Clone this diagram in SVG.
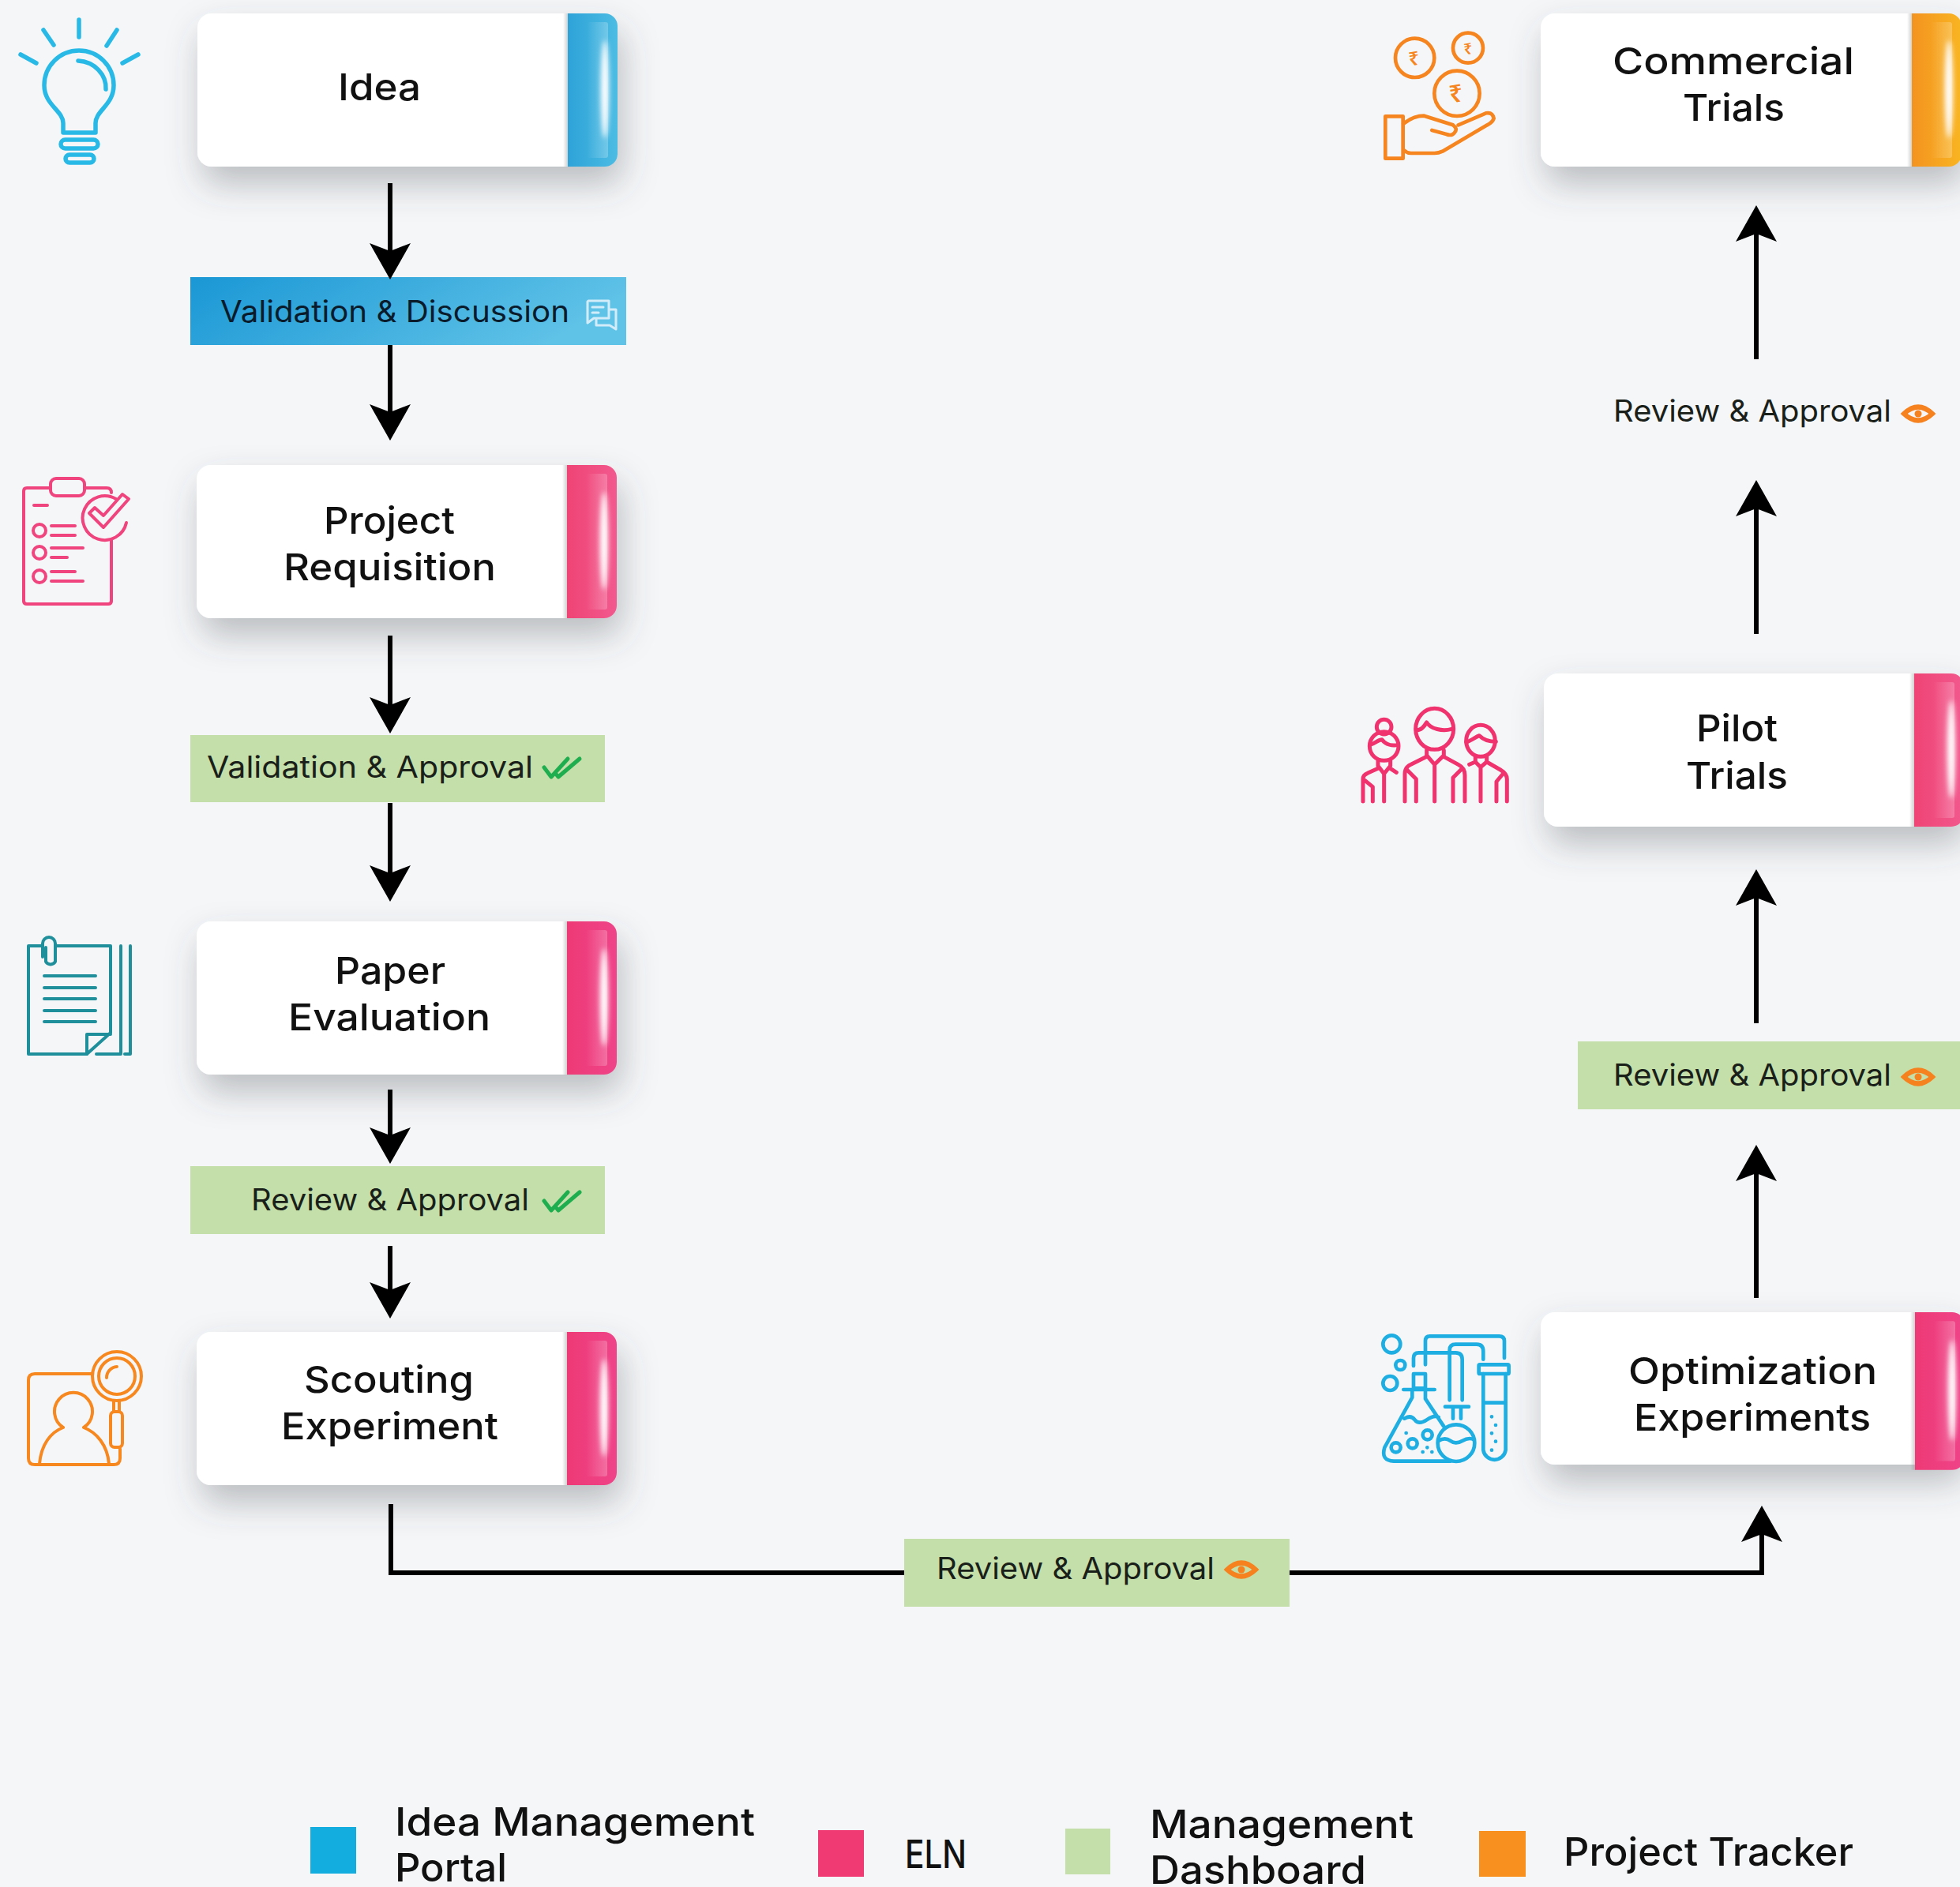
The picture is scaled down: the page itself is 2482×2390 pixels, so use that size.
<svg xmlns="http://www.w3.org/2000/svg" width="2482" height="2390" viewBox="0 0 2482 2390">
<style>
text{font-family:"Inter","Liberation Sans",sans-serif;fill:#111}
.c{font-size:47px;font-weight:500}
.l{font-size:38px;font-weight:400;fill:#1a1f1a}
.g{font-size:49px;font-weight:500}
.card{fill:#fff;filter:url(#sh)}
.green{fill:#c4dfa9}
.ln{fill:none;stroke:#000;stroke-width:6;marker-end:url(#ah)}
.pl{fill:none;stroke:#000;stroke-width:6}
.ic{fill:none;stroke-linecap:round;stroke-linejoin:round}
.ck{fill:none;stroke:#1fae4f;stroke-width:5;stroke-linecap:round;stroke-linejoin:round}
.ey{fill:none;stroke:#f5821f;stroke-width:6}
.ru{font-family:"Noto Sans","DejaVu Sans",sans-serif;fill:#f6851f;font-weight:600;text-anchor:middle}
</style>
<defs>
<filter id="sh" x="-20%" y="-30%" width="140%" height="190%"><feDropShadow dx="6" dy="22" stdDeviation="22" flood-color="#4a4f55" flood-opacity=".34"/></filter>
<filter id="bl" x="-300%" y="-20%" width="700%" height="140%"><feGaussianBlur stdDeviation="3"/></filter>
<marker id="ah" viewBox="0 0 46 52" refX="10" refY="26" markerWidth="46" markerHeight="52" markerUnits="userSpaceOnUse" orient="auto"><path d="M0 0L46 26L0 52L10 26Z" fill="#000"/></marker>
<linearGradient id="gb"><stop offset="0" stop-color="#2ea3d8"/><stop offset="1" stop-color="#4cbce3"/></linearGradient>
<linearGradient id="gp1"><stop offset="0" stop-color="#ef4475"/><stop offset="1" stop-color="#f2598e"/></linearGradient>
<linearGradient id="gp2"><stop offset="0" stop-color="#ee3a76"/><stop offset="1" stop-color="#ef4489"/></linearGradient>
<linearGradient id="go"><stop offset="0" stop-color="#f39320"/><stop offset="1" stop-color="#f9b522"/></linearGradient>
<linearGradient id="gl" x1="0" y1="0" x2="1" y2=".25"><stop offset="0" stop-color="#1a97d5"/><stop offset="1" stop-color="#5fc2e7"/></linearGradient>
<linearGradient id="gp"><stop offset="0" stop-color="#fff" stop-opacity="0"/><stop offset="1" stop-color="#fff" stop-opacity=".24"/></linearGradient>
<linearGradient id="ed"><stop offset="0" stop-color="#8a8a8a" stop-opacity="0"/><stop offset="1" stop-color="#8a8a8a" stop-opacity=".4"/></linearGradient>
<path id="sp" d="M0 0H47a16 16 0 0 1 16 16V178a16 16 0 0 1-16 16H0Z"/>
<g id="gloss">
<rect x="-6" y="0" width="6" height="194" fill="url(#ed)"/>
<rect x="24" y="11" width="27" height="172" rx="3" fill="url(#gp)"/>
<ellipse cx="47" cy="96" rx="5" ry="62" fill="#fff" filter="url(#bl)"/>
</g>
<g id="eye"><path class="ey" d="M-18 0Q0-17 18 0Q0 17-18 0Z"/><circle r="4.5" fill="#f5821f"/></g>
</defs>
<rect width="2482" height="2390" fill="#f5f6f8"/>

<g id="node-idea">
<rect class="card" x="250" y="17" width="532" height="194" rx="18"/>
<use href="#sp" x="719" y="17" fill="url(#gb)"/><use href="#gloss" x="719" y="17"/>
<text class="c" x="428" y="127" textLength="105" lengthAdjust="spacingAndGlyphs">Idea</text>
<g class="ic" stroke="#29b9e6" stroke-width="5.5"><path d="M80 168V156C80 140 56 133 56 108A44 44 0 0 1 144 108C144 133 121 140 121 156V168Z"/><rect x="77" y="177" width="47" height="11" rx="5.5"/><rect x="83" y="196" width="36" height="10" rx="5"/><path d="M100 25V47M55 38L68 57M148 38L135 58M26 69L46 80M175 69L155 80M99 77C120 78 135 95 134 113"/></g>
</g>

<g id="label-validation-discussion">
<rect x="241" y="351" width="552" height="86" fill="url(#gl)"/>
<text class="l" x="279" y="408" textLength="442" lengthAdjust="spacingAndGlyphs" style="fill:#0a1c2c">Validation &amp; Discussion</text>
<g class="ic" stroke="#d2edf9" stroke-width="3"><path d="M745 381H771V403H752L744 409V382Z"/><path d="M772 392H780V417L772 412H755V404M750 389H764M750 396H758"/></g>
</g>

<g id="node-project">
<rect class="card" x="249" y="589" width="532" height="194" rx="18"/>
<use href="#sp" x="718" y="589" fill="url(#gp1)"/><use href="#gloss" x="718" y="589"/>
<text class="c" x="410" y="676" textLength="166" lengthAdjust="spacingAndGlyphs">Project</text>
<text class="c" x="359" y="735" textLength="269" lengthAdjust="spacingAndGlyphs">Requisition</text>
<g class="ic" stroke="#f0447e" stroke-width="4"><path d="M64 618H34Q30 618 30 622V761Q30 765 34 765H137Q141 765 141 761V684M107 618H135Q141 618 141 624"/><rect x="64" y="606" width="43" height="22" rx="7"/><path d="M160 662A28 28 0 1 1 147 632"/><path d="M113 650L131 668L163 632L155 626L131 653L120 643Z"/><circle cx="50" cy="672" r="8"/><circle cx="50" cy="700" r="8"/><circle cx="50" cy="730" r="8"/><path d="M43 640H60M65 666H95M65 678H95M65 694H105M65 706H85M65 724H95M65 736H105"/></g>
</g>

<g id="label-validation-approval">
<rect class="green" x="241" y="931" width="525" height="85"/>
<text class="l" x="262" y="985" textLength="413" lengthAdjust="spacingAndGlyphs">Validation &amp; Approval</text>
<path class="ck" d="M689 972L698 984L719 961M703 979L707 984L734 961"/>
</g>

<g id="node-paper">
<rect class="card" x="249" y="1167" width="532" height="194" rx="18"/>
<use href="#sp" x="718" y="1167" fill="url(#gp2)"/><use href="#gloss" x="718" y="1167"/>
<text class="c" x="424" y="1246" textLength="140" lengthAdjust="spacingAndGlyphs">Paper</text>
<text class="c" x="365" y="1305" textLength="256" lengthAdjust="spacingAndGlyphs">Evaluation</text>
<g class="ic" stroke="#1f8f9b" stroke-width="4"><path d="M52 1198H36V1335H110L140 1308V1198H70"/><path d="M110 1335V1310H140M153 1198V1335H122M165 1198V1335H158M56 1236H121M56 1251H121M56 1265H121M56 1280H121M56 1294H121"/><path d="M54 1212V1195A8 8 0 0 1 70 1195V1218A7 7 0 0 1 58 1218V1200"/></g>
</g>

<g id="label-review-approval-1">
<rect class="green" x="241" y="1477" width="525" height="86"/>
<text class="l" x="318" y="1533" textLength="352" lengthAdjust="spacingAndGlyphs">Review &amp; Approval</text>
<path class="ck" d="M689 1521L698 1533L719 1510M703 1528L707 1533L734 1510"/>
</g>

<g id="node-scouting">
<rect class="card" x="249" y="1687" width="532" height="194" rx="18"/>
<use href="#sp" x="718" y="1687" fill="url(#gp2)"/><use href="#gloss" x="718" y="1687"/>
<text class="c" x="385" y="1764" textLength="215" lengthAdjust="spacingAndGlyphs">Scouting</text>
<text class="c" x="356" y="1823" textLength="275" lengthAdjust="spacingAndGlyphs">Experiment</text>
<g class="ic" stroke="#f7881f" stroke-width="4"><path d="M116 1740H44Q36 1740 36 1748V1847Q36 1855 44 1855H144Q152 1855 152 1847V1835"/><circle cx="148" cy="1743" r="31"/><circle cx="148" cy="1743" r="23"/><path d="M135 1745A14 14 0 0 1 148 1731"/><rect x="140" y="1788" width="15" height="45" rx="5"/><path d="M144 1775V1788M151 1775V1788"/><path d="M80 1808A24 24 0 1 1 106 1808C122 1814 136 1830 138 1854M80 1808C64 1814 52 1830 50 1854"/></g>
</g>

<g id="label-review-approval-mid">
<rect class="green" x="1145" y="1949" width="488" height="86"/>
<text class="l" x="1186" y="2000" textLength="352" lengthAdjust="spacingAndGlyphs">Review &amp; Approval</text>
<use href="#eye" x="1572" y="1988"/>
</g>

<g id="node-optimization">
<rect class="card" x="1951" y="1662" width="531" height="193" rx="18"/>
<g transform="translate(2425 1662) scale(1 1.03)"><use href="#sp" fill="url(#gp2)"/><use href="#gloss"/></g>
<text class="c" x="2062" y="1753" textLength="315" lengthAdjust="spacingAndGlyphs">Optimization</text>
<text class="c" x="2069" y="1812" textLength="300" lengthAdjust="spacingAndGlyphs">Experiments</text>
<g class="ic" stroke="#1eaee2" stroke-width="14" transform="translate(1690 1660) scale(.3333)"><circle cx="217" cy="127" r="33"/><circle cx="250" cy="207" r="18"/><circle cx="211" cy="276" r="27"/><path d="M345 205V115Q345 97 362 97H625Q645 97 645 115V180M300 210V180Q300 160 320 160H460Q485 160 485 185V340M437 340V150Q437 128 460 128H540Q565 128 565 155V185"/><rect x="548" y="205" width="114" height="35" rx="4"/><path d="M565 240V530A43 43 0 0 0 650 530V240M565 350H650M597 403h.1M612 435h.1M597 466h.1M612 497h.1M597 530h.1"/><rect x="300" y="240" width="45" height="55"/><path d="M262 300H380M295 305V330L190 520Q175 570 225 572H440M345 305V335L415 440M265 410Q290 395 305 415T350 415T395 405"/><circle cx="233" cy="520" r="18"/><circle cx="296" cy="505" r="18"/><circle cx="353" cy="472" r="18"/><path d="M272 465h.1M335 537h.1M352 520h.1M370 537h.1"/><path d="M420 365H510M450 370V410M480 370V410"/><circle cx="462" cy="503" r="70"/><path d="M395 495Q420 480 440 495T485 495T530 490"/></g>
</g>

<g id="label-review-approval-right">
<rect class="green" x="1998" y="1319" width="484" height="86"/>
<text class="l" x="2043" y="1375" textLength="352" lengthAdjust="spacingAndGlyphs">Review &amp; Approval</text>
<use href="#eye" x="2429" y="1364"/>
</g>

<g id="node-pilot">
<rect class="card" x="1955" y="853" width="527" height="194" rx="18"/>
<use href="#sp" x="2424" y="853" fill="url(#gp1)"/><use href="#gloss" x="2424" y="853"/>
<text class="c" x="2148" y="939" textLength="103" lengthAdjust="spacingAndGlyphs">Pilot</text>
<text class="c" x="2135" y="999" textLength="129" lengthAdjust="spacingAndGlyphs">Trials</text>
<g class="ic" stroke="#f0336f" stroke-width="15" transform="translate(1700 880) scale(.3333)"><ellipse cx="350" cy="130" rx="72" ry="78"/><path d="M280 135C300 135 310 120 320 105C335 130 380 140 415 130M320 210V235M385 210V235M320 230L350 265L385 230M350 265V405M237 405V300Q237 275 260 265L320 235M385 235L440 265Q465 278 465 305V405M280 405V320L245 285M420 405V315L455 280"/><circle cx="158" cy="122" r="28"/><circle cx="158" cy="195" r="55"/><path d="M105 190C125 185 135 170 150 170C165 190 190 195 212 190M135 250V270L158 300L182 270V250M78 405V320Q78 305 95 298L135 280M182 280L205 295M158 300V405M115 405V350L85 325"/><ellipse cx="525" cy="175" rx="55" ry="60"/><path d="M470 180C490 175 505 160 520 155C535 170 560 178 583 178M505 235V255L525 275L548 255V235M482 265L505 255M548 255L600 285Q625 300 625 320V405M525 275V405M585 405V330L610 300"/></g>
</g>

<g id="label-review-approval-top">
<text class="l" x="2043" y="534" textLength="352" lengthAdjust="spacingAndGlyphs">Review &amp; Approval</text>
<use href="#eye" x="2429" y="524"/>
</g>

<g id="node-commercial">
<rect class="card" x="1951" y="17" width="531" height="194" rx="18"/>
<use href="#sp" x="2421" y="17" fill="url(#go)"/><use href="#gloss" x="2421" y="17"/>
<text class="c" x="2042" y="94" textLength="306" lengthAdjust="spacingAndGlyphs">Commercial</text>
<text class="c" x="2131" y="153" textLength="129" lengthAdjust="spacingAndGlyphs">Trials</text>
<g transform="translate(1700 20) scale(.3333)"><g class="ic" stroke="#f6851f" stroke-width="14"><circle cx="275" cy="160" r="74"/><circle cx="477" cy="122" r="57"/><circle cx="435" cy="295" r="86"/><rect x="163" y="382" width="67" height="160"/><path d="M232 410Q270 380 310 380L420 415Q440 430 425 445Q415 458 395 450L340 435M440 415L545 370Q570 365 575 390Q570 405 550 415L380 515Q365 522 350 522H260Q245 522 232 510"/></g><text class="ru" x="272" y="188" font-size="72" transform="rotate(-10 272 160)">₹</text><text class="ru" x="477" y="146" font-size="58" transform="rotate(-10 477 122)">₹</text><text class="ru" x="432" y="328" font-size="92" transform="rotate(-10 432 295)">₹</text></g>
</g>

<g id="legend">
<rect x="393" y="2314" width="58" height="59" fill="#14ade0"/>
<text class="g" x="500" y="2325" textLength="456" lengthAdjust="spacingAndGlyphs">Idea Management</text>
<text class="g" x="500" y="2383" textLength="142" lengthAdjust="spacingAndGlyphs">Portal</text>
<rect x="1036" y="2318" width="58" height="59" fill="#ef3a74"/>
<text class="g" x="1146" y="2366" textLength="78" lengthAdjust="spacingAndGlyphs">ELN</text>
<rect x="1349" y="2316" width="57" height="58" fill="#c4dfa9"/>
<text class="g" x="1456" y="2328" textLength="334" lengthAdjust="spacingAndGlyphs">Management</text>
<text class="g" x="1456" y="2386" textLength="274" lengthAdjust="spacingAndGlyphs">Dashboard</text>
<rect x="1873" y="2319" width="59" height="58" fill="#f7901e"/>
<text class="g" x="1980" y="2363" textLength="367" lengthAdjust="spacingAndGlyphs">Project Tracker</text>
</g>

<g id="connectors">
<path class="ln" d="M494 232V318"/>
<path class="ln" d="M494 437V522"/>
<path class="ln" d="M494 805V893"/>
<path class="ln" d="M494 1017V1106"/>
<path class="ln" d="M494 1380V1438"/>
<path class="ln" d="M494 1578V1634"/>
<path class="pl" d="M495 1905V1992H1145"/>
<path class="ln" d="M1633 1992H2231V1943"/>
<path class="ln" d="M2224 1644V1486"/>
<path class="ln" d="M2224 1296V1137"/>
<path class="ln" d="M2224 803V644"/>
<path class="ln" d="M2224 455V296"/>
</g>
</svg>
